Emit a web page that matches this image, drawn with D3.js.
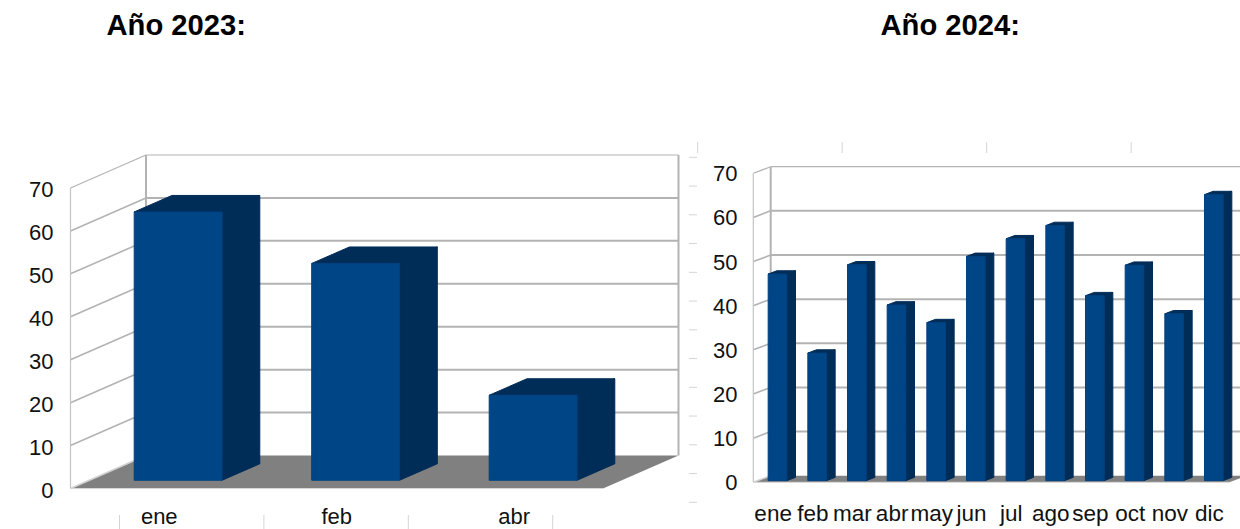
<!DOCTYPE html>
<html lang="es">
<head>
<meta charset="utf-8">
<script src="https://cdn.jsdelivr.net/npm/d3@7"></script>
<style>
  html, body { margin: 0; padding: 0; background: #fff; overflow: hidden; }
  svg { display: block; font-family: "Liberation Sans", Arial, sans-serif; }
  .domain { display: none; }
  .tick text { fill: #111; }
</style>
</head>
<body>
<svg id="chart" width="1240" height="529"></svg>
<script>
// Data
const months2023 = ["ene", "feb", "abr"];
const values2023 = [62.5, 50.5, 19.8];
const months2024 = ["ene", "feb", "mar", "abr", "may", "jun", "jul", "ago", "sep", "oct", "nov", "dic"];
const values2024 = [46.8, 28.9, 48.9, 39.8, 35.8, 50.8, 54.8, 57.8, 41.9, 48.8, 37.8, 64.8];
const yTicks = [0, 10, 20, 30, 40, 50, 60, 70];

const frontColor = "#004586", darkColor = "#002c58", floorColor = "#808080";
const gridColor = "#b3b3b3", stubColor = "#d4d4d4";

const svg = d3.select("#chart");

// Titles
svg.append("text").attr("x", 106.5).attr("y", 35).attr("font-size", 29.2).attr("font-weight", "bold").text("Año 2023:");
svg.append("text").attr("x", 880.5).attr("y", 35).attr("font-size", 29.2).attr("font-weight", "bold").text("Año 2024:");

// Leftover spreadsheet cell marks
const stubs = svg.append("g").attr("stroke", stubColor).attr("stroke-width", 1);
d3.range(13).forEach(i => {
    const y = 157.3 + i * 28.75;
    stubs.append("line").attr("x1", 689).attr("x2", 697).attr("y1", y).attr("y2", y);
});
d3.range(4).forEach(i => {
    const x = 697.7 + i * 144.5;
    stubs.append("line").attr("x1", x).attr("x2", x).attr("y1", 142).attr("y2", 153);
    const xb = 119.5 + i * 144.4;
    stubs.append("line").attr("x1", xb).attr("x2", xb).attr("y1", 515).attr("y2", 529);
});

function drawChart(o) {
    const x = d3.scaleBand()
        .domain(o.categories)
        .range([o.left, o.right])
        .paddingInner(o.gap)
        .paddingOuter(o.gap / 2);

    const y = d3.scaleLinear()
        .domain([0, 70])
        .range([o.bottom, o.top]);

    // z goes from 0 (front) to 1 (back wall)
    const px = (v, z) => v + z * o.dx;
    const py = (v, z) => y(v) + z * o.dy;
    const pts = arr => arr.map(p => p.join(",")).join(" ");

    const g = svg.append("g");

    // Floor
    g.append("polygon")
        .attr("points", pts([
            [px(o.left, 0), py(0, 0)], [px(o.right, 0), py(0, 0)],
            [px(o.right, 1), py(0, 1)], [px(o.left, 1), py(0, 1)]
        ]))
        .attr("fill", floorColor);

    // Gridlines on the side wall and back wall
    yTicks.forEach(t => {
        g.append("line")
            .attr("x1", px(o.left, 0)).attr("y1", py(t, 0))
            .attr("x2", px(o.left, 1)).attr("y2", py(t, 1))
            .attr("stroke", t === 0 ? "#d0d0d0" : gridColor)
            .attr("stroke-width", t === 70 ? 1.2 : 1.6);
        if (t > 0) {
            g.append("line")
                .attr("x1", px(o.left, 1)).attr("y1", py(t, 1))
                .attr("x2", px(o.right, 1)).attr("y2", py(t, 1))
                .attr("stroke", gridColor)
                .attr("stroke-width", t === 70 ? 1.2 : 2);
        }
    });

    // Wall edges
    g.append("line")
        .attr("x1", px(o.left, 1)).attr("x2", px(o.left, 1))
        .attr("y1", py(70, 1)).attr("y2", py(0, 1))
        .attr("stroke", gridColor).attr("stroke-width", 2);
    g.append("line")
        .attr("x1", px(o.right, 1)).attr("x2", px(o.right, 1))
        .attr("y1", py(70, 1)).attr("y2", py(0, 1))
        .attr("stroke", gridColor).attr("stroke-width", 2);
    g.append("line")
        .attr("x1", px(o.left, 0)).attr("x2", px(o.left, 0))
        .attr("y1", py(70, 0)).attr("y2", py(0, 0))
        .attr("stroke", "#c4c4c4").attr("stroke-width", 1.2);
    g.append("line")
        .attr("x1", px(o.left, 0)).attr("x2", px(o.right, 0))
        .attr("y1", py(0, 0)).attr("y2", py(0, 0))
        .attr("stroke", "#d8d8d8").attr("stroke-width", 1);

    // Bars sit between a quarter and three quarters of the depth
    const bars = g.selectAll(".bar")
        .data(o.categories.map((c, i) => ({ c, v: o.values[i] })))
        .enter()
        .append("g")
        .attr("class", "bar")
        .attr("stroke-linejoin", "round")
        .attr("stroke-width", 1);

    bars.append("polygon") // side
        .attr("points", d => {
            const r = x(d.c) + x.bandwidth();
            return pts([
                [px(r, .25), py(0, .25)], [px(r, .75), py(0, .75)],
                [px(r, .75), py(d.v, .75)], [px(r, .25), py(d.v, .25)]
            ]);
        })
        .attr("fill", darkColor).attr("stroke", darkColor);

    bars.append("polygon") // top
        .attr("points", d => {
            const l = x(d.c), r = l + x.bandwidth();
            return pts([
                [px(l, .25), py(d.v, .25)], [px(r, .25), py(d.v, .25)],
                [px(r, .75), py(d.v, .75)], [px(l, .75), py(d.v, .75)]
            ]);
        })
        .attr("fill", darkColor).attr("stroke", darkColor);

    bars.append("polygon") // front
        .attr("points", d => {
            const l = x(d.c), r = l + x.bandwidth();
            return pts([
                [px(l, .25), py(0, .25)], [px(r, .25), py(0, .25)],
                [px(r, .25), py(d.v, .25)], [px(l, .25), py(d.v, .25)]
            ]);
        })
        .attr("fill", frontColor).attr("stroke", "#004180");

    // Axes
    svg.append("g")
        .attr("transform", `translate(${o.labelRight},${o.yLabelShift})`)
        .call(d3.axisLeft(y).tickValues(yTicks).tickSize(0).tickPadding(0))
        .call(a => a.selectAll("text").attr("font-size", o.fontSize).attr("font-family", "Liberation Sans"));

    svg.append("g")
        .attr("transform", `translate(0,${o.catY})`)
        .call(d3.axisBottom(x).tickSize(0).tickPadding(0))
        .call(a => a.selectAll("text").attr("font-size", o.catSize).attr("font-family", "Liberation Sans"));
}

drawChart({
    categories: months2023, values: values2023,
    left: 70.5, right: 603, top: 188, bottom: 488.5,
    dx: 75.5, dy: -33, gap: 0.505,
    labelRight: 53.5, yLabelShift: 1.5, catY: 508.5, fontSize: 22, catSize: 22
});

drawChart({
    categories: months2024, values: values2024,
    left: 753.3, right: 1229.3, top: 173.3, bottom: 482.3,
    dx: 17.4, dy: -6.6, gap: 0.53,
    labelRight: 737.5, yLabelShift: 0.5, catY: 505, fontSize: 22, catSize: 22.5
});
</script>
</body>
</html>
